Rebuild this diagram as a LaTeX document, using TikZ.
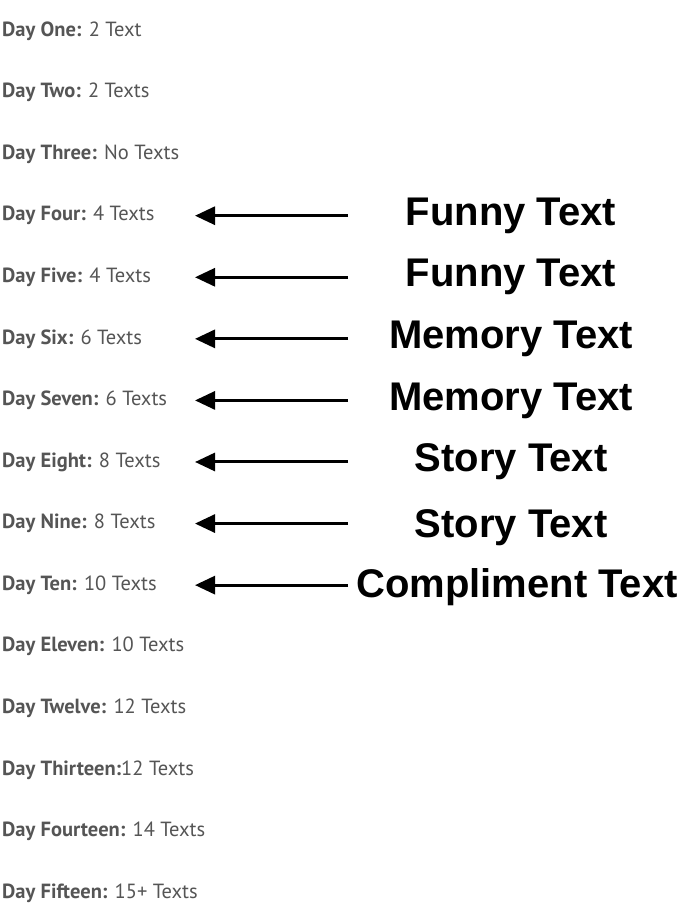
\documentclass[tikz,border=0pt]{standalone}
\usepackage{fontspec}
\setmainfont{PT Sans}
\newfontfamily\arialb{Liberation Sans}[UprightFont=* Bold]
\usetikzlibrary{arrows.meta}
\definecolor{daygray}{HTML}{555555}
\tikzset{x=1pt,y=-1pt,
 dayl/.style={anchor=west,inner sep=0pt,text=daygray,font=\fontsize{20.5}{20.5}\selectfont},
 lab/.style={inner sep=0pt,font=\arialb\fontsize{40}{40}\selectfont},
 arr/.style={line width=3pt,-{Triangle[length=20pt,width=18pt]}}}
\begin{document}
\begin{tikzpicture}
\useasboundingbox (0,0) rectangle (686,912);
\foreach \i/\n/\t in {1/One/2 Text,2/Two/2 Texts,3/Three/No Texts,4/Four/4 Texts,5/Five/4 Texts,6/Six/6 Texts,7/Seven/6 Texts,8/Eight/8 Texts,9/Nine/8 Texts,10/Ten/10 Texts,11/Eleven/10 Texts,12/Twelve/12 Texts,14/Fourteen/14 Texts,15/Fifteen/15+ Texts}{
  \node[dayl] (d\i) at (2,{31+(\i-1)*61.57}) {\textbf{Day \n:} \t};}
\node[dayl] (d13) at (2,{31+12*61.57}) {\textbf{Day Thirteen:}12 Texts};
\foreach \i/\l/\x/\dy in {4/Funny Text/511/1,5/Funny Text/511/1,6/Memory Text/511/1,7/Memory Text/511/1,8/Story Text/511/1,9/Story Text/511/5,10/Compliment Text/517/3}{
  \node[lab] (l\i) at (\x,{30+(\i-1)*61.57+\dy}) {\l};
  \coordinate (s\i) at (348,{31+(\i-1)*61.57});
  \coordinate (e\i) at (195,{31+(\i-1)*61.57});
  \draw[arr] (s\i) -- (e\i);}
\end{tikzpicture}
\end{document}
